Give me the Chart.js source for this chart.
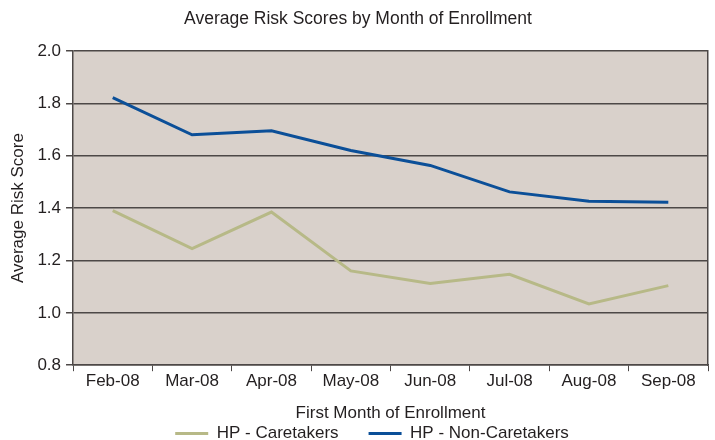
<!DOCTYPE html>
<html>
<head>
<meta charset="utf-8">
<script src="https://cdn.jsdelivr.net/npm/chart.js@4"></script>
<style>
  html, body { margin: 0; padding: 0; background: #ffffff; }
  #wrap { width: 715px; height: 440px; }
</style>
</head>
<body>
<div id="wrap"><canvas id="riskChart"></canvas></div>
<script>
// Data
const months = ["Feb-08", "Mar-08", "Apr-08", "May-08", "Jun-08", "Jul-08", "Aug-08", "Sep-08"];
const caretakers = [1.39, 1.245, 1.385, 1.16, 1.112, 1.147, 1.034, 1.104];
const nonCaretakers = [1.822, 1.68, 1.695, 1.62, 1.563, 1.462, 1.426, 1.422];
const yTicks = [0.8, 1.0, 1.2, 1.4, 1.6, 1.8, 2.0];

const FONT = "'Liberation Sans', Arial, Helvetica, sans-serif";
const TEXT = "#231f20";

// fill the plot area with the taupe background
const plotBackground = {
  id: "plotBackground",
  beforeDraw(chart) {
    const { ctx, chartArea } = chart;
    ctx.save();
    ctx.fillStyle = "#d9d1cb";
    ctx.fillRect(chartArea.left, chartArea.top, chartArea.right - chartArea.left, chartArea.bottom - chartArea.top);
    ctx.restore();
  },
};

// the legend sits tight under the axis title and a bit right of centre
const legendNudge = {
  id: "legendNudge",
  afterLayout(chart) {
    const lg = chart.legend;
    if (!lg) return;
    lg.top = chart.height - 45;
    lg.bottom = chart.height;
    lg.left += 14;
    lg.right += 14;
  },
};

const ctx = document.getElementById("riskChart").getContext("2d");

new Chart(ctx, {
  type: "line",
  data: {
    labels: months,
    datasets: [
      {
        label: "HP - Caretakers",
        data: caretakers,
        borderColor: "#b7b987",
        backgroundColor: "#b7b987",
      },
      {
        label: "HP - Non-Caretakers",
        data: nonCaretakers,
        borderColor: "#0b4f98",
        backgroundColor: "#0b4f98",
      },
    ].map((d) => ({ ...d, borderWidth: 3, pointRadius: 0, tension: 0, fill: false })),
  },
  options: {
    responsive: true,
    maintainAspectRatio: false,
    animation: false,
    layout: { padding: { left: 8, right: 7, top: 0, bottom: 0 } },
    plugins: {
      title: {
        display: true,
        text: "Average Risk Scores by Month of Enrollment",
        color: TEXT,
        font: { family: FONT, size: 17.5, weight: "normal" },
        padding: { top: 9, bottom: 21 },
      },
      legend: {
        position: "bottom",
        maxHeight: 16,
        labels: {
          color: TEXT,
          font: { family: FONT, size: 17 },
          boxWidth: 33,
          boxHeight: 3,
          padding: 30,
          // flat swatch without the border stroke
          generateLabels(chart) {
            return Chart.defaults.plugins.legend.labels
              .generateLabels(chart)
              .map((item) => ({ ...item, lineWidth: 0 }));
          },
        },
      },
      tooltip: { enabled: false },
    },
    scales: {
      x: {
        offset: true,
        grid: {
          offset: true,
          drawOnChartArea: false,
          color: "#4d4847",
          tickLength: 6,
          lineWidth: 1,
        },
        border: { color: "#4d4847", width: 1.5 },
        ticks: {
          color: TEXT,
          font: { family: FONT, size: 17 },
          maxRotation: 0,
          autoSkip: false,
          padding: 0,
        },
        title: {
          display: true,
          text: "First Month of Enrollment",
          color: TEXT,
          font: { family: FONT, size: 17 },
          padding: { top: 12, bottom: 0 },
        },
      },
      y: {
        min: 0.8,
        max: 2.0,
        afterBuildTicks(axis) {
          axis.ticks = yTicks.map((v) => ({ value: v }));
        },
        grid: {
          color: "#4d4847",
          lineWidth: 1.5,
          tickLength: 7,
        },
        border: { color: "#4d4847", width: 1.5 },
        ticks: {
          color: TEXT,
          font: { family: FONT, size: 17 },
          padding: 5,
          callback: (v) => Number(v).toFixed(1),
        },
        title: {
          display: true,
          text: "Average Risk Score",
          color: TEXT,
          font: { family: FONT, size: 17 },
          padding: { top: 0, bottom: 4 },
        },
      },
      y2: {
        position: "right",
        min: 0.8,
        max: 2.0,
        grid: { drawOnChartArea: false, drawTicks: false },
        border: { color: "#4d4847", width: 1.5 },
        ticks: { display: false },
      },
    },
  },
  plugins: [plotBackground, legendNudge],
});
</script>
</body>
</html>
